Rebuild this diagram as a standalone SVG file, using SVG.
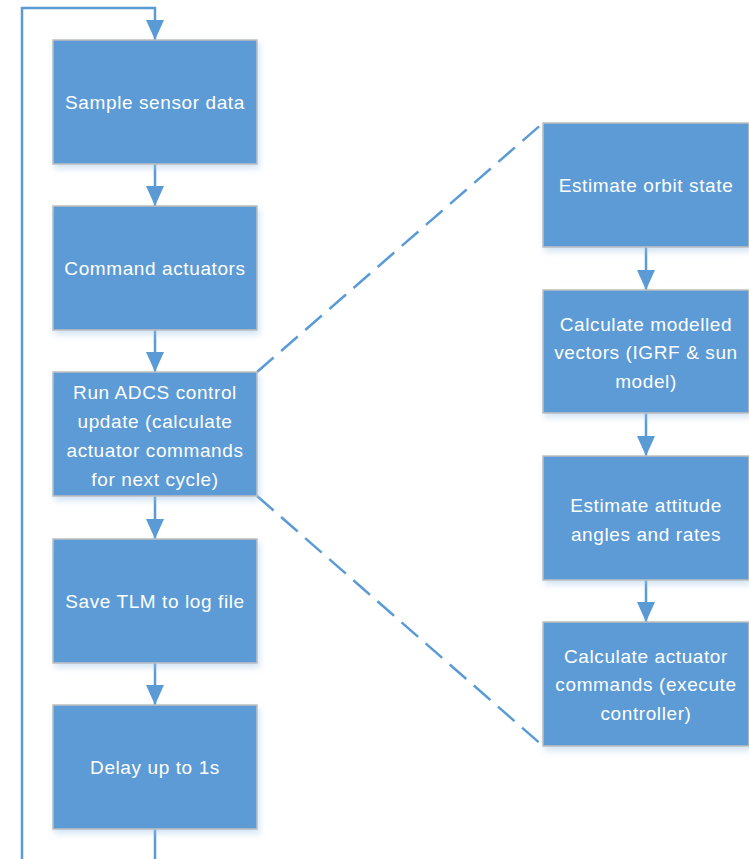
<svg xmlns="http://www.w3.org/2000/svg" width="749" height="859" viewBox="0 0 749 859">
  <style>
    .box { fill: #5B9BD5; stroke: #BFBFBF; stroke-width: 1.5; filter: url(#shadow); }
    .lbl { font-family: "Liberation Sans", Arial, sans-serif; font-size: 19px; letter-spacing: 0.6px; fill: #FFFFFF; text-anchor: middle; }
    .flow { fill: none; stroke: #5B9BD5; stroke-width: 2.5; }
    .dash { fill: none; stroke: #5B9BD5; stroke-width: 2.5; stroke-dasharray: 22 10; }
  </style>
  <defs>
    <filter id="shadow" x="-10%" y="-10%" width="125%" height="130%">
      <feDropShadow dx="2" dy="4" stdDeviation="3" flood-color="#9DC3E6" flood-opacity="0.45"/>
    </filter>
    <marker id="head" viewBox="0 0 20 18" refX="20" refY="9" markerWidth="20" markerHeight="18" markerUnits="userSpaceOnUse" orient="auto">
      <path d="M0,0 L20,9 L0,18 Z" fill="#5B9BD5"/>
    </marker>
  </defs>

  <!-- connectors -->
  <g id="connectors">
    <!-- loop back from the bottom into the first step -->
    <path class="flow" d="M22,859 L22,8 L155,8 L155,40" marker-end="url(#head)"/>
    <path class="flow" d="M155,829 L155,859"/>
    <path class="flow" d="M155,164 L155,206" marker-end="url(#head)"/>
    <path class="flow" d="M155,330 L155,372" marker-end="url(#head)"/>
    <path class="flow" d="M155,496 L155,539" marker-end="url(#head)"/>
    <path class="flow" d="M155,663 L155,705" marker-end="url(#head)"/>
    <path class="flow" d="M646,247 L646,290" marker-end="url(#head)"/>
    <path class="flow" d="M646,413 L646,456" marker-end="url(#head)"/>
    <path class="flow" d="M646,580 L646,622" marker-end="url(#head)"/>
    <!-- expansion of the control update step -->
    <path class="dash" d="M257,372 L543,123"/>
    <path class="dash" d="M257,496 L543,746"/>
  </g>

  <!-- main loop -->
  <g id="sample-sensor-data">
    <rect class="box" x="53" y="40" width="204" height="124"/>
    <text class="lbl" x="155" y="109">Sample sensor data</text>
  </g>
  <g id="command-actuators">
    <rect class="box" x="53" y="206" width="204" height="124"/>
    <text class="lbl" x="155" y="275">Command actuators</text>
  </g>
  <g id="run-adcs-update">
    <rect class="box" x="53" y="372" width="204" height="124"/>
    <text class="lbl" x="155" y="399">Run ADCS control</text>
    <text class="lbl" x="155" y="428">update (calculate</text>
    <text class="lbl" x="155" y="457">actuator commands</text>
    <text class="lbl" x="155" y="486">for next cycle)</text>
  </g>
  <g id="save-tlm">
    <rect class="box" x="53" y="539" width="204" height="124"/>
    <text class="lbl" x="155" y="608">Save TLM to log file</text>
  </g>
  <g id="delay">
    <rect class="box" x="53" y="705" width="204" height="124"/>
    <text class="lbl" x="155" y="774">Delay up to 1s</text>
  </g>

  <!-- control update detail -->
  <g id="estimate-orbit">
    <rect class="box" x="543" y="123" width="206" height="124"/>
    <text class="lbl" x="646" y="192">Estimate orbit state</text>
  </g>
  <g id="modelled-vectors">
    <rect class="box" x="543" y="290" width="206" height="123"/>
    <text class="lbl" x="646" y="331">Calculate modelled</text>
    <text class="lbl" x="646" y="359">vectors (IGRF &amp; sun</text>
    <text class="lbl" x="646" y="388">model)</text>
  </g>
  <g id="estimate-attitude">
    <rect class="box" x="543" y="456" width="206" height="124"/>
    <text class="lbl" x="646" y="512">Estimate attitude</text>
    <text class="lbl" x="646" y="541">angles and rates</text>
  </g>
  <g id="actuator-commands">
    <rect class="box" x="543" y="622" width="206" height="124"/>
    <text class="lbl" x="646" y="663">Calculate actuator</text>
    <text class="lbl" x="646" y="691">commands (execute</text>
    <text class="lbl" x="646" y="720">controller)</text>
  </g>
</svg>
